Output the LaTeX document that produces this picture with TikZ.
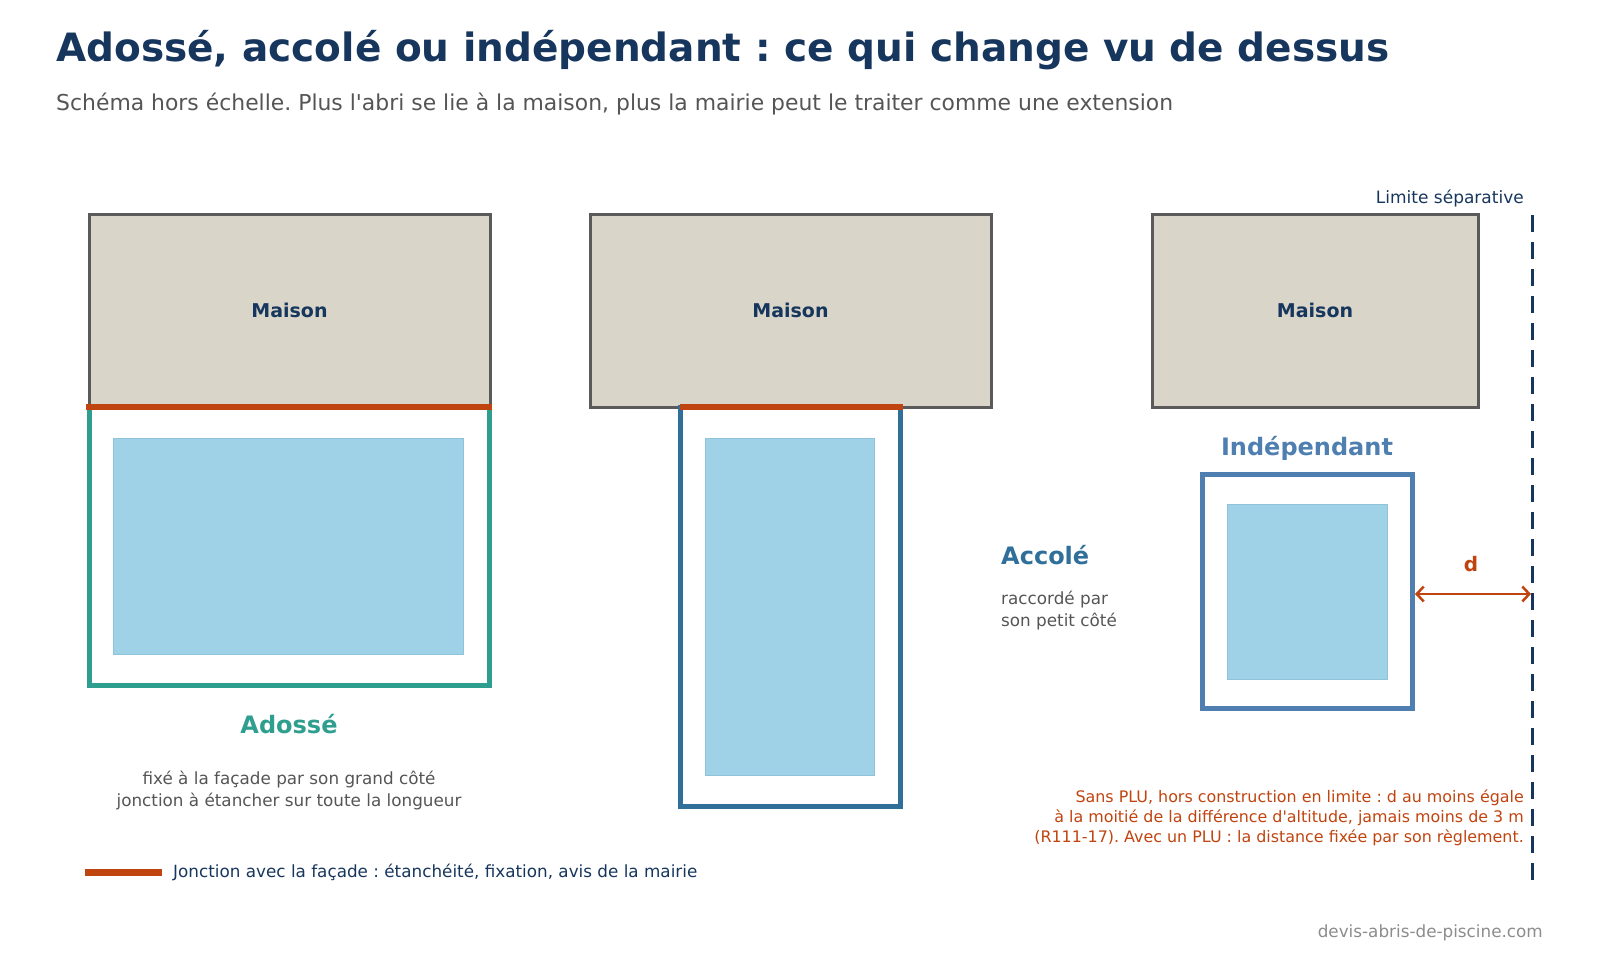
\documentclass[tikz,border=0pt]{standalone}
\usepackage{fontspec}
\setmainfont{DejaVu Sans}
\frenchspacing
\usetikzlibrary{arrows.meta}

\definecolor{navy}{HTML}{17365D}
\definecolor{txtgray}{HTML}{555555}
\definecolor{housefill}{HTML}{D9D5C9}
\definecolor{housedraw}{HTML}{5A5A5A}
\definecolor{joint}{HTML}{C0440F}
\definecolor{adosse}{HTML}{2E9E8E}
\definecolor{accole}{HTML}{2F6F9A}
\definecolor{indep}{HTML}{4F7FB0}
\definecolor{water}{HTML}{A0D2E7}

\tikzset{
    maison/.style={draw=housedraw, fill=housefill, line width=3pt, outer sep=0pt,
        font=\fontsize{19}{23}\selectfont\bfseries, text=navy},
    abri/.style={draw=#1, line width=5pt, fill=white, outer sep=0pt},
    bassin/.style={draw=water!85!accole, line width=0.4pt, fill=water, outer sep=0pt},
    jonction/.style={draw=joint, line width=6pt},
    titre/.style={font=\fontsize{24}{28}\selectfont\bfseries, text=#1},
    legende/.style={font=\fontsize{16.8}{22}\selectfont, text=txtgray, align=#1}
}

\begin{document}
\begin{tikzpicture}[x=1pt, y=-1pt]
    \useasboundingbox (0,0) rectangle (1600,960);

    % en-tete
    \node[anchor=base west, text=navy, font=\fontsize{39}{44}\selectfont\bfseries, inner sep=0pt]
        (titre) at (56,62) {Adossé, accolé ou indépendant : ce qui change vu de dessus};
    \node[anchor=base west, text=txtgray, font=\fontsize{21.9}{26}\selectfont, inner sep=0pt]
        (soustitre) at (56,111) {Schéma hors échelle. Plus l\textquotesingle abri se lie à la maison, plus la mairie peut le traiter comme une extension};

    % adosse
    \node[maison, minimum width=401pt, minimum height=193pt] (m1) at (289.5,310.5) {Maison};
    \node[abri=adosse, minimum width=400pt, minimum height=278pt] (s1) at (289,546) {};
    \node[bassin, minimum width=350pt, minimum height=216pt] (p1) at (288,546) {};
    \draw[jonction] ([xshift=-3pt]s1.north west) -- ([xshift=3pt]s1.north east);
    \node[titre=adosse, anchor=base] (t1) at (289,733) {Adossé};
    \node[legende=center, anchor=base] (d1) at (289,806)
        {fixé à la façade par son grand côté\\jonction à étancher sur toute la longueur};

    % accole
    \node[maison, minimum width=401pt, minimum height=193pt] (m2) at (790.5,310.5) {Maison};
    \node[abri=accole, minimum width=220pt, minimum height=399pt] (s2) at (790,606.5) {};
    \node[bassin, minimum width=169pt, minimum height=337pt] (p2) at (789.5,606.5) {};
    \draw[jonction] (s2.north west) -- ([xshift=3pt]s2.north east);
    \node[titre=accole, anchor=base west, inner sep=0pt] (t2) at (1001,564) {Accolé};
    \node[legende=left, anchor=north west, inner sep=0pt] (d2) at (1001,591)
        {raccordé par\\son petit côté};

    % independant
    \node[maison, minimum width=326pt, minimum height=193pt] (m3) at (1315,310.5) {Maison};
    \node[titre=indep, anchor=base] (t3) at (1307,455) {Indépendant};
    \node[abri=indep, minimum width=210pt, minimum height=234pt] (s3) at (1307,591) {};
    \node[bassin, minimum width=160pt, minimum height=175pt] (p3) at (1307,591.5) {};

    % limite separative
    \coordinate (lim) at (1532,215);
    \coordinate (limbas) at (1532,884);
    \draw[navy, line width=3pt, dash pattern=on 17pt off 10pt] (lim) -- (limbas);
    \node[anchor=base east, text=navy, font=\fontsize{17}{20}\selectfont, inner sep=0pt]
        (limtxt) at (1524,204) {Limite séparative};
    \draw[joint, line width=2.5pt, {Straight Barb[length=7pt,width=15pt]}-{Straight Barb[length=7pt,width=15pt]}]
        ([xshift=3pt,yshift=-3pt]s3.east) -- ([xshift=-1pt,yshift=-3pt]s3.east -| lim);
    \node[text=joint, font=\fontsize{20}{22}\selectfont\bfseries, anchor=base] (d) at (1471,571) {d};
    \node[anchor=north east, align=right, text=joint, font=\fontsize{15.9}{20}\selectfont, inner sep=0pt]
        (note) at (1524,790) {Sans PLU, hors construction en limite : d au moins égale\\
        à la moitié de la différence d\textquotesingle altitude, jamais moins de 3 m\\
        (R111-17). Avec un PLU : la distance fixée par son règlement.};

    % legende
    \coordinate (lg) at (85,872);
    \draw[joint, line width=7pt] (lg) -- ++(77,0) coordinate (lgfin);
    \node[anchor=west, text=navy, font=\fontsize{16.8}{20}\selectfont, inner sep=0pt, xshift=11pt]
        (lgtxt) at (lgfin) {Jonction avec la façade : étanchéité, fixation, avis de la mairie};

    \node[anchor=base east, text=gray!90, font=\fontsize{16.8}{20}\selectfont, inner sep=0pt]
        (site) at (1543,937) {devis-abris-de-piscine.com};
\end{tikzpicture}
\end{document}
